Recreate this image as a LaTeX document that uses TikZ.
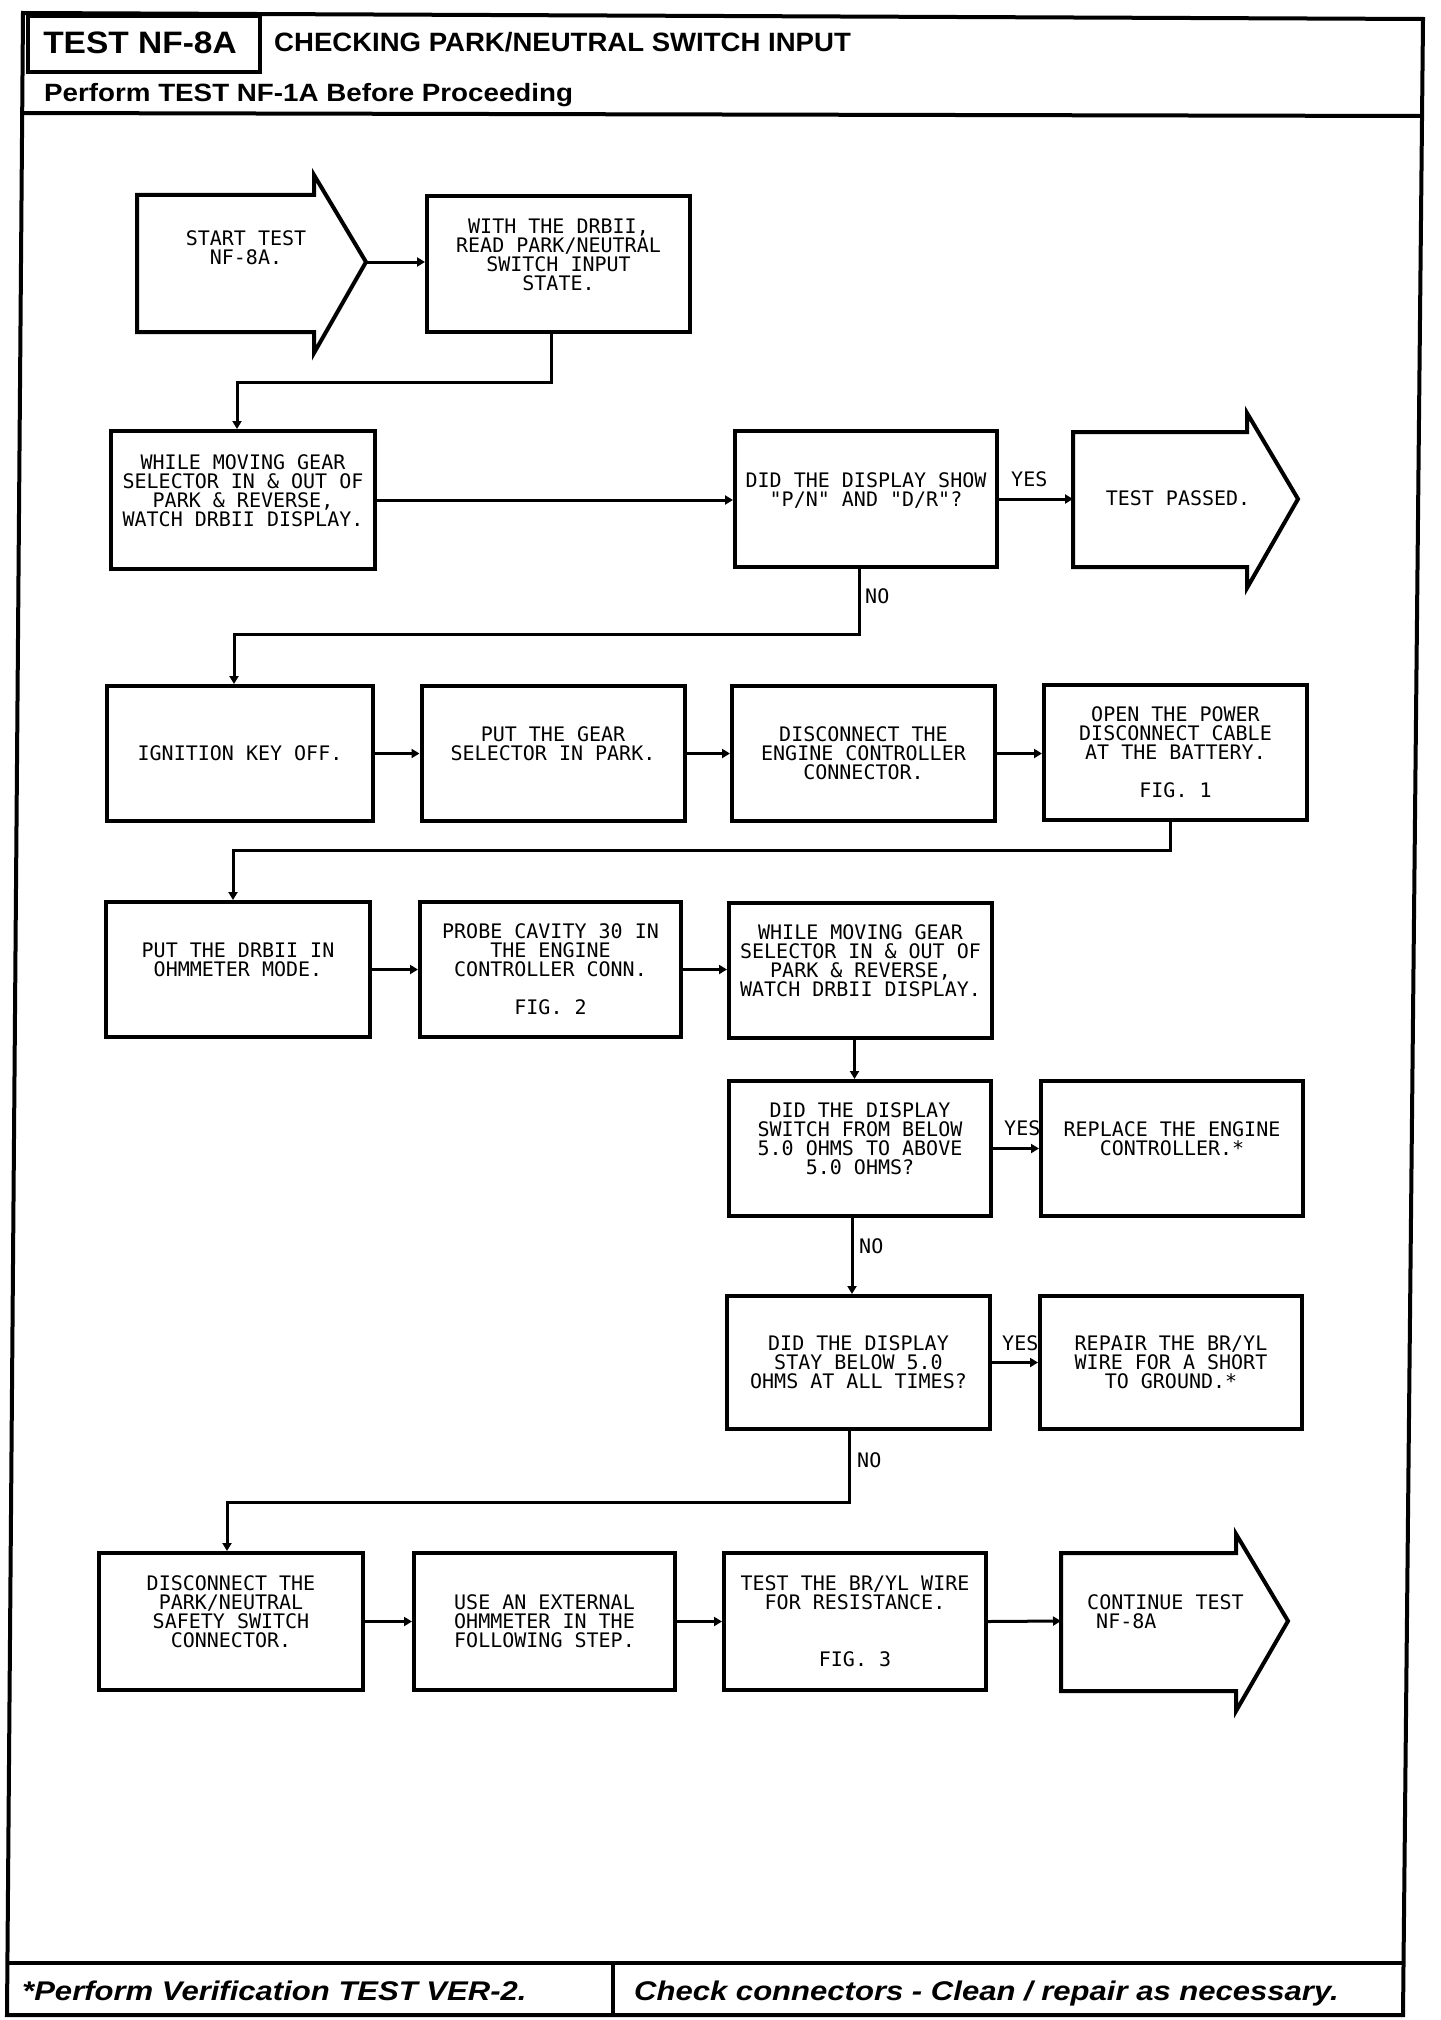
\documentclass[tikz,border=0pt]{standalone}
\usepackage{fontspec}
\usetikzlibrary{arrows.meta,calc}
\newfontfamily\boxfont{DejaVu Sans Mono}
\newfontfamily\hdrA{Liberation Sans}[FakeStretch=1.08]
\newfontfamily\hdrB{Liberation Sans}[FakeStretch=1.04]
\newfontfamily\hdrC{Liberation Sans}[FakeStretch=1.11]
\newfontfamily\ftrfont{Liberation Sans}[FakeStretch=1.15]
\begin{document}
\begin{tikzpicture}[x=1pt,y=-1pt,
  frame/.style={line width=4pt, line join=miter},
  boxline/.style={line width=4pt, line join=miter},
  box/.style={draw, line width=4pt, minimum width=263pt, minimum height=135pt,
    inner sep=0pt, align=center, font=\boxfont\fontsize{20}{19}\selectfont},
  txt/.style={inner sep=0pt, align=center, font=\boxfont\fontsize{20}{19}\selectfont},
  lbl/.style={inner sep=0pt, anchor=base west, font=\boxfont\fontsize{20}{19}\selectfont},
  conn/.style={line width=3pt, -{Triangle[length=8pt,width=9pt]}},
]
\useasboundingbox (0,0) rectangle (1440,2020);
\fill[white] (0,0) rectangle (1440,2020);

% ---- frame, header and footer ----
\draw[frame] (23,13) -- (1423,19) -- (1403,2015) -- (7,2015) -- cycle;
\draw[frame] (28,16) rectangle (260,72);
\draw[frame] (22,113) -- (1421,116);
\draw[frame] (7.4,1963) -- (1403.5,1963);
\draw[frame] (613,1963) -- (613,2015);
\node[inner sep=0pt, anchor=base, font=\hdrA\bfseries\fontsize{31}{31}\selectfont] (title) at (140,54) {TEST NF-8A};
\node[inner sep=0pt, anchor=base west, font=\hdrB\bfseries\fontsize{26.5}{26.5}\selectfont] (subject) at (274,52) {CHECKING PARK/NEUTRAL SWITCH INPUT};
\node[inner sep=0pt, anchor=base west, font=\hdrC\bfseries\fontsize{25}{25}\selectfont] (prereq) at (44,102) {Perform TEST NF-1A Before Proceeding};
\node[inner sep=0pt, anchor=base west, font=\ftrfont\bfseries\itshape\fontsize{27}{27}\selectfont] (foot1) at (22,2000) {*Perform Verification TEST VER-2.};
\node[inner sep=0pt, anchor=base west, font=\ftrfont\bfseries\itshape\fontsize{27}{27}\selectfont] (foot2) at (634,2000) {Check connectors - Clean / repair as necessary.};

% ---- arrow shaped terminals ----
\draw[boxline] (137,195) -- (314,195) -- (314,175) -- (366,262) -- (314,353) -- (314,332) -- (137,332) -- cycle;
\coordinate (starttip) at (366,262);
\node[txt] (start) at (246,248) {START TEST\\NF-8A.};

\draw[boxline] (1073,432) -- (1247,432) -- (1247,413) -- (1298,499) -- (1247,588) -- (1247,567) -- (1073,567) -- cycle;
\coordinate (passedin) at (1073,499);
\node[txt] (passed) at (1178,498) {TEST PASSED.};

\draw[boxline] (1061,1553) -- (1236,1553) -- (1236,1534) -- (1288,1621) -- (1236,1711) -- (1236,1691) -- (1061,1691) -- cycle;
\coordinate (contin) at (1061,1621);
\node[txt, align=left, anchor=north west] (cont) at (1087,1594) {CONTINUE TEST\\\hspace*{9pt}NF-8A};

% ---- boxes ----
\node[box] (read) at (558.5,264) {WITH THE DRBII,\\READ PARK/NEUTRAL\\SWITCH INPUT\\STATE.\\\mbox{}};
\node[box, minimum width=264pt, minimum height=138pt] (watch1) at (243,500) {WHILE MOVING GEAR\\SELECTOR IN \& OUT OF\\PARK \& REVERSE,\\WATCH DRBII DISPLAY.\\\mbox{}};
\node[box, minimum width=262pt, minimum height=136pt] (q1) at (866,499) {DID THE DISPLAY SHOW\\"P/N" AND "D/R"?\\\mbox{}};

\node[box, minimum width=266pt] (ign) at (240,753.5) {IGNITION KEY OFF.};
\node[box] (park) at (553,753.5) {PUT THE GEAR\\SELECTOR IN PARK.\\\mbox{}};
\node[box] (disc) at (863.5,753.5) {DISCONNECT THE\\ENGINE CONTROLLER\\CONNECTOR.};
\node[box] (open) at (1175.5,752) {OPEN THE POWER\\DISCONNECT CABLE\\AT THE BATTERY.\\[19pt]FIG. 1};

\node[box, minimum width=264pt] (ohm) at (238,969.5) {PUT THE DRBII IN\\OHMMETER MODE.\\\mbox{}};
\node[box, minimum width=261pt] (probe) at (550.5,969.5) {PROBE CAVITY 30 IN\\THE ENGINE\\CONTROLLER CONN.\\[19pt]FIG. 2};
\node[box] (watch2) at (860.5,970.5) {WHILE MOVING GEAR\\SELECTOR IN \& OUT OF\\PARK \& REVERSE,\\WATCH DRBII DISPLAY.\\\mbox{}};

\node[box, minimum width=262pt] (q2) at (860,1148.5) {DID THE DISPLAY\\SWITCH FROM BELOW\\5.0 OHMS TO ABOVE\\5.0 OHMS?\\\mbox{}};
\node[box, minimum width=262pt] (replace) at (1172,1148.5) {REPLACE THE ENGINE\\CONTROLLER.*\\\mbox{}};

\node[box, minimum height=133pt] (q3) at (858.5,1362.5) {DID THE DISPLAY\\STAY BELOW 5.0\\OHMS AT ALL TIMES?};
\node[box, minimum width=262pt, minimum height=133pt] (repair) at (1171,1362.5) {REPAIR THE BR/YL\\WIRE FOR A SHORT\\TO GROUND.*};

\node[box, minimum width=264pt, minimum height=137pt] (discpn) at (231,1621.5) {DISCONNECT THE\\PARK/NEUTRAL\\SAFETY SWITCH\\CONNECTOR.\\\mbox{}};
\node[box, minimum width=261pt, minimum height=137pt] (use) at (544.5,1621.5) {USE AN EXTERNAL\\OHMMETER IN THE\\FOLLOWING STEP.};
\node[box, minimum width=262pt, minimum height=137pt] (testbr) at (855,1621.5) {TEST THE BR/YL WIRE\\FOR RESISTANCE.\\[38pt]FIG. 3};

% ---- labels ----
\node[lbl] (yes1) at (1011,486) {YES};
\node[lbl] (no1) at (865,603) {NO};
\node[lbl] (yes2) at (1004,1135) {YES};
\node[lbl] (no2) at (859,1253) {NO};
\node[lbl] (yes3) at (1002,1350) {YES};
\node[lbl] (no3) at (857,1467) {NO};

% ---- bend points ----
\coordinate (c1) at (400,382);
\coordinate (c2) at (500,634);
\coordinate (c3) at (600,850);
\coordinate (c4) at (500,1502);

% ---- connectors ----
\draw[conn] (starttip) -- (starttip -| read.west);
\draw[conn] ([xshift=-7pt]read.south) |- (c1) -| ([xshift=-6pt]watch1.north);
\draw[conn] (watch1.east) -- (watch1.east -| q1.west);
\draw[conn] (q1.east) -- (passedin);
\draw[conn] ([xshift=-7pt]q1.south) |- (c2) -| ([xshift=-6pt]ign.north);
\draw[conn] (ign.east) -- (park.west);
\draw[conn] (park.east) -- (disc.west);
\draw[conn] (disc.east) -- (disc.east -| open.west);
\draw[conn] ([xshift=-5pt]open.south) |- (c3) -| ([xshift=-5pt]ohm.north);
\draw[conn] (ohm.east) -- (probe.west);
\draw[conn] (probe.east) -- (probe.east -| watch2.west);
\draw[conn] ([xshift=-6pt]watch2.south) -- ([xshift=-6pt]watch2.south |- q2.north);
\draw[conn] (q2.east) -- (replace.west);
\draw[conn] ([xshift=-8pt]q2.south) -- ([xshift=-8pt]q2.south |- q3.north);
\draw[conn] (q3.east) -- (repair.west);
\draw[conn] ([xshift=-9pt]q3.south) |- (c4) -| ([xshift=-4pt]discpn.north);
\draw[conn] (discpn.east) -- (use.west);
\draw[conn] (use.east) -- (testbr.west);
\draw[conn] (testbr.east) -- (contin);
\end{tikzpicture}
\end{document}
